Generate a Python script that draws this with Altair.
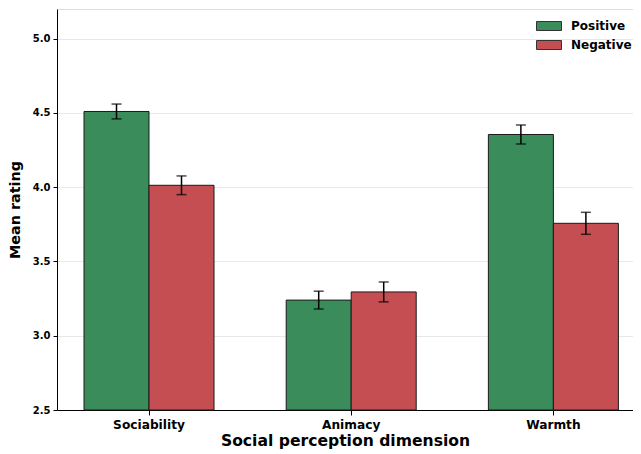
import altair as alt
import pandas as pd

categories = ["Sociability", "Animacy", "Warmth"]
groups = ["Positive", "Negative"]
pos_means = [4.51, 3.24, 4.355]
pos_err = [0.05, 0.06, 0.064]
neg_means = [4.013, 3.295, 3.757]
neg_err = [0.063, 0.067, 0.074]
colors = ["#3a8c5a", "#c44e52"]
y_ticks = [2.5, 3.0, 3.5, 4.0, 4.5, 5.0]

rows = []
for i, c in enumerate(categories):
    rows.append({"cat": c, "group": "Positive", "mean": pos_means[i], "err": pos_err[i]})
    rows.append({"cat": c, "group": "Negative", "mean": neg_means[i], "err": neg_err[i]})
df = pd.DataFrame(rows)
df["lo"] = df["mean"] - df["err"]
df["hi"] = df["mean"] + df["err"]

FONT = "DejaVu Sans"

x_enc = alt.X("cat:N", sort=categories, title="Social perception dimension",
              scale=alt.Scale(paddingInner=0.357, paddingOuter=0.1029, align=0.649),
              axis=alt.Axis(labelAngle=0, labelFont=FONT, labelFontWeight="bold", labelFontSize=12.2,
                            labelColor="black", titleFont=FONT, titleFontWeight="bold", titleFontSize=15.6,
                            titleColor="black", domainColor="black", tickColor="black", tickSize=5,
                            labelPadding=3, titlePadding=3, grid=False))
xoff = alt.XOffset("group:N", sort=groups, scale=alt.Scale(domain=groups, paddingInner=0, paddingOuter=0))
y_scale = alt.Scale(domain=[2.5, 5.2], nice=False, zero=False)

bars = alt.Chart(df).mark_bar(stroke="#1a1a1a", strokeWidth=1).encode(
    x=x_enc,
    xOffset=xoff,
    y=alt.Y("mean:Q", scale=y_scale, title="Mean rating",
            axis=alt.Axis(values=y_ticks, format=".1f", labelFont=FONT, labelFontWeight="bold",
                          labelFontSize=10, labelColor="black", titleFont=FONT, titleFontWeight="bold",
                          titleFontSize=14.4, titleColor="black", domainColor="black", tickColor="black",
                          tickSize=4, gridColor="#e8e8e8", gridWidth=1, labelPadding=3, titlePadding=10)),
    y2=alt.datum(2.5),
    color=alt.Color("group:N", sort=groups,
                    scale=alt.Scale(domain=groups, range=colors),
                    legend=alt.Legend(title=None, orient="none", legendX=486, legendY=11,
                                      symbolType="M-2.5,-0.9L2.5,-0.9L2.5,0.9L-2.5,0.9Z", symbolSize=100,
                                      symbolStrokeColor="#333333", symbolStrokeWidth=1,
                                      labelFont=FONT, labelFontWeight="bold", labelFontSize=12,
                                      labelColor="black", labelOffset=16, rowPadding=5, padding=0)),
)

rules = alt.Chart(df).mark_rule(color="black", strokeWidth=1.5).encode(
    x=alt.X("cat:N", sort=categories),
    xOffset=xoff,
    y=alt.Y("lo:Q", scale=y_scale),
    y2="hi:Q",
)
caps_hi = alt.Chart(df).mark_tick(color="black", orient="horizontal", size=10, thickness=1.5).encode(
    x=alt.X("cat:N", sort=categories),
    xOffset=xoff,
    y=alt.Y("hi:Q", scale=y_scale),
)
caps_lo = alt.Chart(df).mark_tick(color="black", orient="horizontal", size=10, thickness=1.5).encode(
    x=alt.X("cat:N", sort=categories),
    xOffset=xoff,
    y=alt.Y("lo:Q", scale=y_scale),
)

chart = alt.layer(bars, rules, caps_hi, caps_lo).properties(
    width=576, height=401,
    autosize=alt.AutoSizeParams(type="none"),
    padding={"left": 49, "top": 1, "right": 0, "bottom": 44},
).configure_view(stroke=None).configure(background="white")

chart.save("out.html", embed_options={"renderer": "svg", "actions": False})
